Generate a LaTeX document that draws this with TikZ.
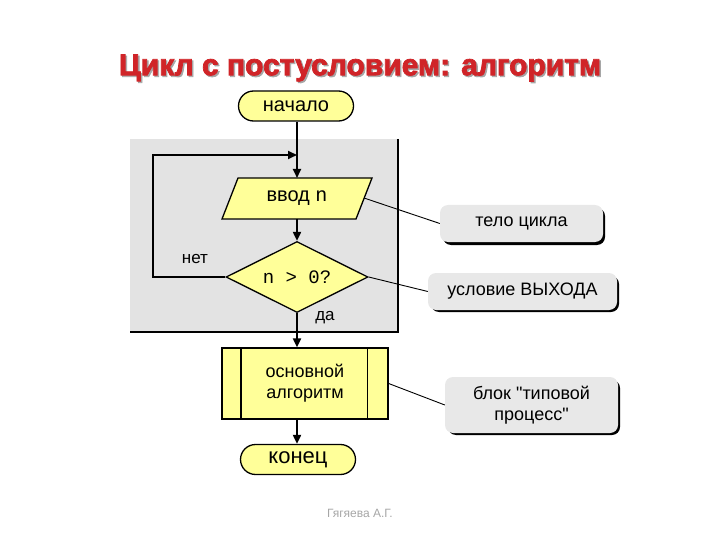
\documentclass[tikz,border=0pt]{standalone}
\usepackage{fontspec}
\setmainfont{Liberation Sans}
\setmonofont{Liberation Mono}
\newfontfamily\titlefont[FakeBold=2.5]{Liberation Sans Bold}
\usetikzlibrary{shapes.geometric,arrows.meta,calc}
\definecolor{boxyellow}{RGB}{255,255,153}
\definecolor{panelgray}{RGB}{227,227,227}
\definecolor{calloutgray}{RGB}{232,232,232}
\definecolor{titlered}{RGB}{208,36,40}
\tikzset{
  flow/.style={draw=black,line width=1.3pt,fill=boxyellow,inner sep=0pt},
  term/.style={flow,rectangle,rounded corners=15pt,minimum width=115pt,minimum height=30pt},
  conn/.style={line width=2pt,-{Triangle[length=9pt,width=8pt]}},
  plain/.style={line width=2pt},
  ptr/.style={line width=0.9pt},
  note/.style={rectangle,rounded corners=8pt,fill=calloutgray,inner sep=0pt,align=center,font=\fontsize{18}{21}\selectfont},
  lbl/.style={font=\fontsize{17}{19}\selectfont,inner sep=0pt}
}
\begin{document}
\begin{tikzpicture}[x=1pt,y=-1pt]
\useasboundingbox (0,0) rectangle (720,540);
% title
\node[text=black!35,font=\fontsize{30}{33}\titlefont] at (361.5,69.5) {Цикл с постусловием: алгоритм};
\node (title) [text=titlered,font=\fontsize{30}{33}\titlefont] at (360,68) {Цикл с постусловием: алгоритм};
% panel
\fill[panelgray] (130,139) rectangle (398,332);
\draw[line width=2pt] (398,139) -- (398,332) -- (130,332);
% start
\node (start) [term,font=\fontsize{20}{22}\selectfont] at (296,106) {начало};
% input parallelogram
\coordinate (inT) at (297,178);
\coordinate (inB) at (297,219);
\coordinate (inR) at (364,198);
\filldraw[draw=black,line width=1.3pt,fill=boxyellow] (222,219) -- (238,178) -- (372,178) -- (356,219) -- cycle;
\node (inp) [font=\fontsize{20}{22}\selectfont] at (297,198.5) {ввод \texttt{n}};
% decision
\node (dia) [flow,diamond,aspect=2,minimum width=142pt,minimum height=71pt,font=\fontsize{19}{21}\selectfont] at (297,277) {\texttt{n > 0?}};
% process
\node (proc) [flow,rectangle,minimum width=166pt,minimum height=71pt,align=center,font=\fontsize{18}{21}\selectfont] at (305,383.5) {основной\\алгоритм};
\draw[line width=1.3pt] ([xshift=19.5pt]proc.north west) -- ([xshift=19.5pt]proc.south west);
\draw[line width=1.3pt] ([xshift=-21pt]proc.north east) -- ([xshift=-21pt]proc.south east);
% end
\node (stop) [term,font=\fontsize{22}{24}\selectfont] at (298,459.5) {конец};
% connectors
\coordinate (join) at (297,155);
\coordinate (loopA) at (153,277);
\coordinate (loopB) at (153,155);
\draw[plain] (start.south -| join) -- (join);
\draw[conn] (join) -- (inT);
\draw[conn] (dia.west) -- (loopA) -- (loopB) -- (join);
\draw[conn] (inB) -- (dia.north);
\draw[conn] (dia.south) -- (dia.south |- proc.north);
\draw[conn] (proc.south -| dia.south) -- (stop.north -| dia.south);
% labels
\node (no) [lbl] at (195,259) {нет};
\node (yes) [lbl] at (325,318) {да};
% callouts
\fill[black,rounded corners=8pt] (443,208) rectangle (605,245);
\node (c1) [note,minimum width=163pt,minimum height=37pt] at (521.5,223.5) {тело цикла};
\fill[black,rounded corners=8pt] (431,276) rectangle (619,312);
\node (c2) [note,minimum width=189pt,minimum height=37pt] at (522.5,291.5) {условие ВЫХОДА};
\fill[black,rounded corners=8pt] (448,380) rectangle (620,435);
\node (c3) [note,minimum width=173pt,minimum height=56pt] at (531.5,405) {блок \textquotedbl типовой\\процесс\textquotedbl};
\draw[ptr] (inR) -- (c1.west);
\draw[ptr] (dia.east) -- (c2.west);
\draw[ptr] (proc.east) -- (c3.west);
% footer
\node (foot) [text=black!35,font=\fontsize{12}{13}\selectfont] at (360,513) {Гягяева А.Г.};
\end{tikzpicture}
\end{document}
